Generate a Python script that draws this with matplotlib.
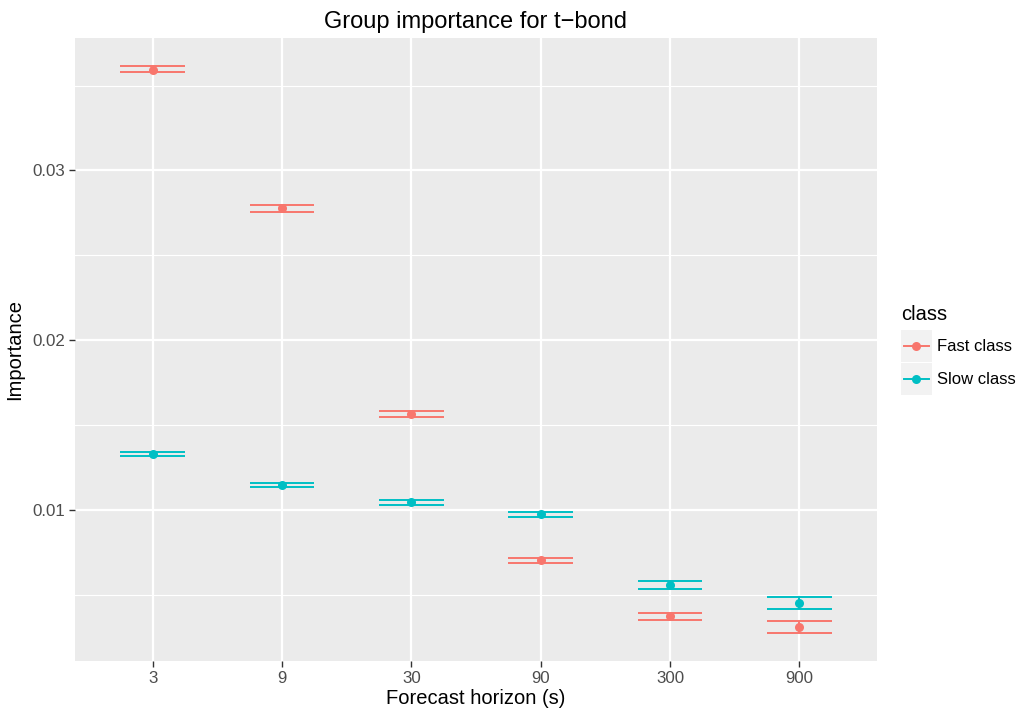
import matplotlib.pyplot as plt
from matplotlib.lines import Line2D
from matplotlib.patches import Rectangle

plt.rcParams["font.family"] = ["Liberation Sans", "DejaVu Sans"]

horizons = ["3", "9", "30", "90", "300", "900"]
classes = ["Fast class", "Slow class"]
colors = ["#F8766D", "#00BFC4"]

fast_mean = [0.03594, 0.02778, 0.01562, 0.00702, 0.00371, 0.00311]
fast_lo = [0.03579, 0.02758, 0.01544, 0.00686, 0.00352, 0.00275]
fast_hi = [0.03614, 0.02798, 0.01582, 0.00716, 0.00389, 0.00344]

slow_mean = [0.01328, 0.01145, 0.01044, 0.00972, 0.00554, 0.00452]
slow_lo = [0.01316, 0.01133, 0.01027, 0.00956, 0.00531, 0.00414]
slow_hi = [0.01341, 0.01155, 0.01060, 0.00985, 0.00578, 0.00488]

W, H = 1020, 714
BG = "#EBEBEB"


def fx(px):
    return px / W


def fy(py):
    return 1 - py / H


fig = plt.figure(figsize=(W / 100, H / 100), dpi=100)
ax = fig.add_axes([fx(75), fy(661), fx(877) - fx(75), fy(38) - fy(661)])
ax.set_facecolor(BG)
for s in ax.spines.values():
    s.set_visible(False)

xs = list(range(len(horizons)))
series = [(fast_mean, fast_lo, fast_hi), (slow_mean, slow_lo, slow_hi)]
for (mean, lo, hi), col in zip(series, colors):
    ax.hlines(lo, [x - 0.25 for x in xs], [x + 0.25 for x in xs], color=col, lw=1.4, zorder=3)
    ax.hlines(hi, [x - 0.25 for x in xs], [x + 0.25 for x in xs], color=col, lw=1.4, zorder=3)
    ax.vlines(xs, lo, hi, color=col, lw=1.4, zorder=3)
    ax.plot(xs, mean, "o", color=col, ms=6.5, mec="none", zorder=4)

# ggplot-style limits (5% expansion on continuous, 0.6 on discrete)
ymin = min(fast_lo + slow_lo)
ymax = max(fast_hi + slow_hi)
pad = (ymax - ymin) * 0.05
ax.set_ylim(ymin - pad, ymax + pad)
ax.set_xlim(-0.6, len(horizons) - 1 + 0.6)

ax.set_xticks(xs)
ax.set_xticklabels(horizons)
ax.set_yticks([0.01, 0.02, 0.03])
ax.set_yticklabels(["0.01", "0.02", "0.03"])
ax.set_yticks([0.005, 0.015, 0.025, 0.035], minor=True)
ax.tick_params(axis="both", which="major", length=4, width=1, color="#333333",
               labelsize=12.2, labelcolor="#4D4D4D", pad=3)
ax.tick_params(axis="y", which="minor", length=0)
ax.grid(True, which="major", color="white", lw=1.6)
ax.grid(True, which="minor", axis="y", color="white", lw=0.8)
ax.set_axisbelow(True)

ax.set_xlabel("Forecast horizon (s)", fontsize=14.5, labelpad=2)
ax.set_ylabel("Importance", fontsize=14.5, labelpad=6)
ax.set_title("Group importance for t\u2212bond", fontsize=17, pad=7)

# legend drawn by hand in ggplot style
fig.text(fx(901), fy(314), "class", fontsize=14.5, va="center", ha="left")
for i, (name, col) in enumerate(zip(classes, colors)):
    top = 330 + i * 33
    fig.patches.append(Rectangle((fx(901), fy(top + 32)), fx(31), 32 / H,
                                 transform=fig.transFigure, facecolor="#F2F2F2",
                                 edgecolor="none"))
    cy = fy(top + 16)
    fig.lines.append(Line2D([fx(904), fx(929)], [cy, cy], transform=fig.transFigure,
                            color=col, lw=1.4))
    fig.lines.append(Line2D([fx(916.5)], [cy], transform=fig.transFigure, marker="o",
                            color=col, ms=6.5, mec="none"))
    fig.text(fx(937), cy, name, fontsize=12, va="center", ha="left")

fig.savefig("out.png", dpi=100, facecolor="white")
